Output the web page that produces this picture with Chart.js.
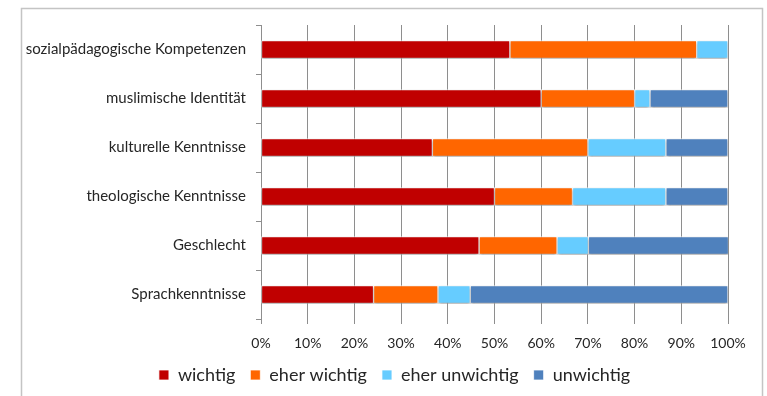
<!DOCTYPE html>
<html lang="de">
<head>
<meta charset="UTF-8" />
<title>Wichtigkeit der Kriterien</title>
<script src="https://cdn.jsdelivr.net/npm/chart.js"></script>
<style>
  html, body { margin: 0; padding: 0; background: #fff; }
  #wrap { width: 767px; height: 396px; }
</style>
</head>
<body>
<div id="wrap"><canvas id="myChart" width="767" height="396"></canvas></div>

<script>
  // Kategorien (von oben nach unten)
  var kategorien = [
    "sozialpädagogische Kompetenzen",
    "muslimische Identität",
    "kulturelle Kenntnisse",
    "theologische Kenntnisse",
    "Geschlecht",
    "Sprachkenntnisse"
  ];

  // Anteile in Prozent
  var wichtig       = [53.3, 60.0, 36.7, 50.0, 46.7, 24.1];
  var eherWichtig   = [40.0, 20.0, 33.3, 16.7, 16.7, 13.8];
  var eherUnwichtig = [ 6.7,  3.3, 16.7, 20.0,  6.7,  6.9];
  var unwichtig     = [ 0.0, 16.7, 13.3, 13.3, 30.0, 55.2];

  var serien = ["wichtig", "eher wichtig", "eher unwichtig", "unwichtig"];
  var cores = ["#c00000", "#ff6600", "#66ccff", "#4f81bd"];
  var achsenTicks = [0, 10, 20, 30, 40, 50, 60, 70, 80, 90, 100];

  Chart.defaults.font.family = "Lato, 'Open Sans', sans-serif";
  Chart.defaults.color = "#262626";

  // weißer Hintergrund + grauer Rahmen
  var rahmen = {
    id: "rahmen",
    beforeDraw: function (chart) {
      var c = chart.ctx;
      c.save();
      c.fillStyle = "#fff";
      c.fillRect(0, 0, chart.width, chart.height);
      c.strokeStyle = "#c4c4c4";
      c.lineWidth = 1.5;
      c.strokeRect(21.5, 8.5, 741, 420);
      c.restore();
    },
    // Legende mittig im Rahmen statt im Canvas
    afterLayout: function (chart) {
      chart.legend.left += 20;
      chart.legend.right += 20;
    }
  };

  // leichter Schatten unter den Balken
  var schatten = {
    id: "schatten",
    beforeDatasetsDraw: function (chart) {
      var c = chart.ctx;
      c.save();
      c.shadowColor = "rgba(0,0,0,0.35)";
      c.shadowBlur = 3;
      c.shadowOffsetY = 2;
    },
    afterDatasetsDraw: function (chart) {
      chart.ctx.restore();
    }
  };

  var werte = [wichtig, eherWichtig, eherUnwichtig, unwichtig];
  var datasets = [];
  for (var i = 0; i < serien.length; i++) {
    datasets.push({
      label: serien[i],
      data: werte[i],
      backgroundColor: cores[i],
      borderColor: "rgba(255,255,255,0.75)",
      borderWidth: 1,
      borderSkipped: false,
      barThickness: 18
    });
  }

  new Chart(document.getElementById("myChart"), {
    type: "bar",
    data: { labels: kategorien, datasets: datasets },
    plugins: [rahmen, schatten],
    options: {
      indexAxis: "y",
      responsive: false,
      animation: false,
      layout: { padding: { top: 25, left: 21, right: 39, bottom: 2 } },
      scales: {
        x: {
          stacked: true,
          min: 0,
          max: 100,
          afterBuildTicks: function (axis) {
            axis.ticks = achsenTicks.map(function (v) { return { value: v }; });
          },
          afterFit: function (scale) { scale.height = 32; },
          grid: { color: "#8e8e8e", tickLength: 5, lineWidth: 1 },
          border: { display: false },
          ticks: {
            padding: 11,
            font: { size: 14 },
            callback: function (v) { return v + "%"; }
          }
        },
        y: {
          stacked: true,
          afterFit: function (scale) { scale.width = 240; },
          grid: { drawOnChartArea: false, tickLength: 5, color: "#8e8e8e", offset: true },
          border: { display: true, color: "#8e8e8e" },
          ticks: { padding: 10, font: { size: 15 } }
        }
      },
      plugins: {
        tooltip: { enabled: false },
        legend: {
          position: "bottom",
          labels: {
            boxWidth: 10,
            boxHeight: 10,
            padding: 15,
            font: { size: 18 },
            color: "#262626"
          }
        }
      }
    }
  });
</script>
</body>
</html>
